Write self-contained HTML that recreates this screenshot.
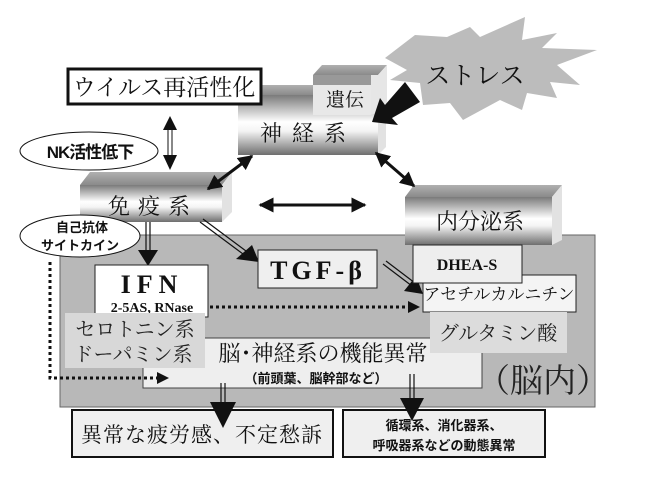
<!DOCTYPE html>
<html><head><meta charset="utf-8"><style>
html,body{margin:0;padding:0;background:#fff}
svg{display:block}
.m{font-family:"Liberation Serif","Noto Serif CJK SC",serif}
.g{font-family:"Liberation Sans","Noto Sans CJK JP",sans-serif}
</style></head><body>
<svg width="648" height="501" viewBox="0 0 648 501" xmlns="http://www.w3.org/2000/svg">
<defs>
<linearGradient id="fr" x1="0" y1="0" x2="0" y2="1">
<stop offset="0" stop-color="#7a7a7a"/><stop offset="0.45" stop-color="#ffffff"/><stop offset="0.6" stop-color="#f4f4f4"/><stop offset="1" stop-color="#6e6e6e"/></linearGradient>
<linearGradient id="tp" x1="0" y1="0" x2="0" y2="1">
<stop offset="0" stop-color="#b0b0b0"/><stop offset="1" stop-color="#8a8a8a"/></linearGradient>
<marker id="ah" viewBox="0 0 10 10" refX="9" refY="5" markerWidth="5" markerHeight="5" orient="auto-start-reverse"><path d="M0,0L10,5L0,10z" fill="#111"/></marker>
</defs>
<rect x="60" y="235" width="535" height="172" fill="#b8b8b8" stroke="#666" stroke-width="1"/>
<polygon points="385,58 415,35 447,37 470,27 480,37 525,17 522,40 557,33 542,48 597,50 557,65 580,85 550,82 557,98 527,93 522,110 500,100 463,120 450,103 423,105 420,83 390,80 407,70" fill="#bcbcbc"/>
<text x="475" y="84" class="m" font-size="25" text-anchor="middle" fill="#111">ストレス</text>
<polygon points="238,95 246,85 386,85 378,95" fill="url(#tp)"/>
<polygon points="378,95 386,85 386,147 378,155" fill="#e2e2e2"/>
<rect x="238" y="95" width="140" height="60" fill="url(#fr)"/>
<polygon points="313,75 322,65 387,65 378,75" fill="url(#tp)"/>
<polygon points="370,75 378,75 387,65 387,110 370,115" fill="#e6e6e6"/>
<rect x="313" y="75" width="58" height="40" fill="#e8e8e8"/>
<rect x="313" y="75" width="58" height="10" fill="#999"/>
<text x="345" y="106" class="m" font-size="19" text-anchor="middle" fill="#111">遺伝</text>
<text x="308" y="141" class="m" font-size="22" text-anchor="middle" fill="#111" letter-spacing="10">神経系</text>
<polygon points="405,82 420,102 392,118 398,125 372,122 380,98 385,105" fill="#111"/>
<rect x="68" y="69" width="193" height="35" fill="#fff" stroke="#111" stroke-width="3"/>
<text x="164" y="95" class="m" font-size="23" text-anchor="middle" fill="#111">ウイルス再活性化</text>
<line x1="168" y1="124" x2="168" y2="162" stroke="#111" stroke-width="1"/>
<line x1="172" y1="124" x2="172" y2="162" stroke="#111" stroke-width="1"/>
<polygon points="170,116 163,130 177,130" fill="#111"/>
<polygon points="170,170 163,155 177,155" fill="#111"/>
<ellipse cx="89" cy="151" rx="69" ry="19" fill="#fff" stroke="#111" stroke-width="1"/>
<text x="90" y="158" class="g" font-size="17" font-weight="bold" text-anchor="middle" fill="#111" letter-spacing="-1">NK活性低下</text>
<polygon points="80,185 90,172 232,172 222,185" fill="url(#tp)"/>
<polygon points="222,185 232,172 232,212 222,222" fill="#e2e2e2"/>
<rect x="80" y="185" width="142" height="37" fill="url(#fr)"/>
<text x="153" y="214" class="m" font-size="22" text-anchor="middle" fill="#111" letter-spacing="8">免疫系</text>
<polygon points="405,197 414,185 562,185 552,197" fill="url(#tp)"/>
<polygon points="552,197 562,185 562,240 552,245" fill="#e2e2e2"/>
<rect x="405" y="197" width="147" height="48" fill="url(#fr)"/>
<text x="480" y="229" class="m" font-size="22" text-anchor="middle" fill="#111">内分泌系</text>
<line x1="252" y1="156" x2="208" y2="189" stroke="#111" stroke-width="3" marker-start="url(#ah)" marker-end="url(#ah)"/>
<line x1="376" y1="153" x2="414" y2="186" stroke="#111" stroke-width="3" marker-start="url(#ah)" marker-end="url(#ah)"/>
<line x1="260" y1="205" x2="365" y2="205" stroke="#111" stroke-width="3" marker-start="url(#ah)" marker-end="url(#ah)"/>
<ellipse cx="80" cy="236" rx="60" ry="21" fill="#fff" stroke="#111" stroke-width="1"/>
<text x="82" y="232" class="g" font-size="13" font-weight="bold" text-anchor="middle" fill="#111">自己抗体</text>
<text x="80" y="250" class="g" font-size="13" font-weight="bold" text-anchor="middle" fill="#111">サイトカイン</text>
<line x1="146" y1="222" x2="146" y2="252" stroke="#111" stroke-width="1.2"/>
<line x1="150" y1="222" x2="150" y2="252" stroke="#111" stroke-width="1.2"/>
<polygon points="138,250 158,250 148,266" fill="#111"/>
<line x1="200" y1="222" x2="243" y2="254" stroke="#111" stroke-width="1.2"/>
<line x1="203" y1="219" x2="246" y2="251" stroke="#111" stroke-width="1.2"/>
<polygon points="236,259 252,245 259,262" fill="#111"/>
<rect x="95" y="265" width="113" height="52" fill="#fff" stroke="#222" stroke-width="1"/>
<text x="152" y="293" class="m" font-size="26" font-weight="bold" text-anchor="middle" fill="#111" letter-spacing="6">IFN</text>
<text x="152" y="312" class="m" font-size="14" font-weight="bold" text-anchor="middle" fill="#111">2-5AS, RNase</text>
<rect x="258" y="250" width="119" height="38" fill="#efefef" stroke="#222" stroke-width="1"/>
<text x="318" y="279" class="m" font-size="26" font-weight="bold" text-anchor="middle" fill="#111" letter-spacing="4">TGF-β</text>
<line x1="383" y1="264" x2="412" y2="286" stroke="#111" stroke-width="1.2"/>
<line x1="386" y1="261" x2="415" y2="283" stroke="#111" stroke-width="1.2"/>
<polygon points="404,291 416,276 423,294" fill="#111"/>
<rect x="143" y="338" width="339" height="50" fill="#eeeeee" stroke="#444" stroke-width="1"/>
<rect x="65" y="313" width="140" height="55" fill="#d8d8d8"/>
<text x="135" y="336" class="m" font-size="20" text-anchor="middle" fill="#222">セロトニン系</text>
<text x="133" y="361" class="m" font-size="20" text-anchor="middle" fill="#222">ドーパミン系</text>
<text x="323" y="361" class="m" font-size="22" text-anchor="middle" fill="#111">脳･神経系の機能異常</text>
<text x="316" y="383" class="g" font-size="13" font-weight="bold" text-anchor="middle" fill="#111">（前頭葉、脳幹部など）</text>
<rect x="423" y="275" width="153" height="37" fill="#f4f4f4" stroke="#222" stroke-width="1"/>
<rect x="413" y="245" width="109" height="38" fill="#eeeeee" stroke="#222" stroke-width="1"/>
<text x="467" y="270" class="m" font-size="16" font-weight="bold" text-anchor="middle" fill="#111">DHEA-S</text>
<text x="499" y="300" class="m" font-size="17" text-anchor="middle" fill="#111">アセチルカルニチン</text>
<rect x="430" y="312" width="137" height="41" fill="#dcdcdc"/>
<text x="498" y="340" class="m" font-size="20" text-anchor="middle" fill="#222">グルタミン酸</text>
<text x="543" y="392" class="m" font-size="33" text-anchor="middle" fill="#222">（脳内）</text>
<line x1="210" y1="307" x2="410" y2="307" stroke="#111" stroke-width="3" stroke-dasharray="3,3"/>
<polygon points="408,301 420,307 408,313" fill="#111"/>
<polyline points="50,262 50,378 158,378" fill="none" stroke="#111" stroke-width="3" stroke-dasharray="3,3"/>
<polygon points="157,372 169,378 157,384" fill="#111"/>
<line x1="221" y1="383" x2="221" y2="412" stroke="#111" stroke-width="1.2"/>
<line x1="225" y1="383" x2="225" y2="412" stroke="#111" stroke-width="1.2"/>
<line x1="410" y1="374" x2="410" y2="402" stroke="#111" stroke-width="1.2"/>
<line x1="414" y1="374" x2="414" y2="402" stroke="#111" stroke-width="1.2"/>
<rect x="72" y="410" width="261" height="47" fill="#efefef" stroke="#111" stroke-width="2"/>
<text x="202" y="442" class="m" font-size="21" text-anchor="middle" fill="#111" letter-spacing="1">異常な疲労感、不定愁訴</text>
<rect x="343" y="410" width="202" height="47" fill="#efefef" stroke="#111" stroke-width="2"/>
<text x="444" y="430" class="g" font-size="13" font-weight="bold" text-anchor="middle" fill="#111">循環系、消化器系、</text>
<text x="444" y="450" class="g" font-size="13" font-weight="bold" text-anchor="middle" fill="#111">呼吸器系などの動態異常</text>
<polygon points="210,402 236,402 223,428" fill="#111"/>
<polygon points="400,398 424,398 412,421" fill="#111"/>
</svg>
</body></html>
